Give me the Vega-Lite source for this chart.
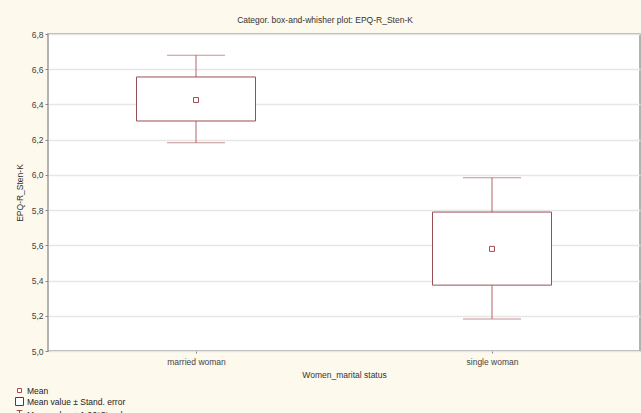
{
  "$schema": "https://vega.github.io/schema/vega-lite/v6.json",
  "width": 592,
  "height": 317,
  "autosize": {"type": "none"},
  "padding": {"left": 48, "top": 34, "right": 1, "bottom": 62},
  "background": "#fdf9ec",
  "title": {
    "text": "Categor. box-and-whisher plot:  EPQ-R_Sten-K",
    "fontSize": 8.5,
    "fontWeight": "normal",
    "color": "#333333",
    "font": "Liberation Sans",
    "offset": 6,
    "dx": -19
  },
  "data": {
    "values": [
      {"status": "married woman", "series": "Mean", "mean": 6.425, "se_lo": 6.306, "se_hi": 6.556, "ci_lo": 6.182, "ci_hi": 6.68},
      {"status": "single woman", "series": "Mean", "mean": 5.58, "se_lo": 5.374, "se_hi": 5.789, "ci_lo": 5.182, "ci_hi": 5.984}
    ]
  },
  "encoding": {
    "x": {
      "field": "status",
      "type": "nominal",
      "scale": {"type": "point", "padding": 0.5},
      "axis": {
        "title": "Women_marital status",
        "labelAngle": 0,
        "tickSize": 2,
        "labelPadding": 4,
        "titlePadding": 5,
        "grid": false
      }
    }
  },
  "layer": [
    {
      "mark": {"type": "rule", "color": "#b06468", "strokeWidth": 1},
      "encoding": {
        "y": {
          "field": "ci_lo",
          "type": "quantitative",
          "scale": {"domain": [5.0, 6.8], "nice": false, "zero": false},
          "axis": {
            "title": "EPQ-R_Sten-K",
            "values": [5.0, 5.2, 5.4, 5.6, 5.8, 6.0, 6.2, 6.4, 6.6, 6.8],
            "tickCount": 10,
            "labelExpr": "replace(format(datum.value, '.1f'), '.', ',')",
            "labelOverlap": false,
            "labelBound": false,
            "labelFlush": false,
            "tickSize": 3,
            "labelPadding": 2,
            "titlePadding": 7,
            "grid": true
          }
        },
        "y2": {"field": "ci_hi"}
      }
    },
    {
      "mark": {"type": "tick", "color": "#b06468", "size": 58, "thickness": 1},
      "encoding": {"y": {"field": "ci_lo", "type": "quantitative", "axis": {
            "title": "EPQ-R_Sten-K",
            "values": [5.0, 5.2, 5.4, 5.6, 5.8, 6.0, 6.2, 6.4, 6.6, 6.8],
            "tickCount": 10,
            "labelExpr": "replace(format(datum.value, '.1f'), '.', ',')",
            "labelOverlap": false,
            "labelBound": false,
            "labelFlush": false,
            "tickSize": 3,
            "labelPadding": 2,
            "titlePadding": 7,
            "grid": true
          }}}
    },
    {
      "mark": {"type": "tick", "color": "#b06468", "size": 58, "thickness": 1},
      "encoding": {"y": {"field": "ci_hi", "type": "quantitative", "axis": {
            "title": "EPQ-R_Sten-K",
            "values": [5.0, 5.2, 5.4, 5.6, 5.8, 6.0, 6.2, 6.4, 6.6, 6.8],
            "tickCount": 10,
            "labelExpr": "replace(format(datum.value, '.1f'), '.', ',')",
            "labelOverlap": false,
            "labelBound": false,
            "labelFlush": false,
            "tickSize": 3,
            "labelPadding": 2,
            "titlePadding": 7,
            "grid": true
          }}}
    },
    {
      "mark": {"type": "bar", "fill": "#ffffff", "stroke": "#9a4e56", "strokeWidth": 1, "size": 119},
      "encoding": {
        "y": {"field": "se_lo", "type": "quantitative", "axis": {
            "title": "EPQ-R_Sten-K",
            "values": [5.0, 5.2, 5.4, 5.6, 5.8, 6.0, 6.2, 6.4, 6.6, 6.8],
            "tickCount": 10,
            "labelExpr": "replace(format(datum.value, '.1f'), '.', ',')",
            "labelOverlap": false,
            "labelBound": false,
            "labelFlush": false,
            "tickSize": 3,
            "labelPadding": 2,
            "titlePadding": 7,
            "grid": true
          }},
        "y2": {"field": "se_hi"}
      }
    },
    {
      "mark": {"type": "point", "filled": false, "fill": "#ffffff", "strokeWidth": 1, "size": 100, "opacity": 1},
      "encoding": {
        "y": {"field": "mean", "type": "quantitative", "axis": {
            "title": "EPQ-R_Sten-K",
            "values": [5.0, 5.2, 5.4, 5.6, 5.8, 6.0, 6.2, 6.4, 6.6, 6.8],
            "tickCount": 10,
            "labelExpr": "replace(format(datum.value, '.1f'), '.', ',')",
            "labelOverlap": false,
            "labelBound": false,
            "labelFlush": false,
            "tickSize": 3,
            "labelPadding": 2,
            "titlePadding": 7,
            "grid": true
          }},
        "shape": {
          "field": "series",
          "type": "nominal",
          "scale": {
            "domain": ["Mean", "Mean value ± Stand. error", "Mean value ± 1,96*Stand. error"],
            "range": ["M-0.5,-0.5H0.5V0.5H-0.5Z", "M-1,-1H1V1H-1Z", "M-0.7,-1H0.7M0,-1V1"]
          },
          "legend": {
            "title": null,
            "orient": "none",
            "legendX": -33,
            "legendY": 352,
            "symbolSize": 64,
            "symbolStrokeWidth": 1,
            "labelFontSize": 8.5,
            "labelColor": "#222222",
            "labelOffset": 3,
            "rowPadding": 0,
            "symbolFillColor": "#ffffff",
            "padding": 0
          }
        },
        "stroke": {
          "field": "series",
          "type": "nominal",
          "scale": {
            "domain": ["Mean", "Mean value ± Stand. error", "Mean value ± 1,96*Stand. error"],
            "range": ["#a84850", "#444444", "#a84850"]
          },
          "legend": {
            "title": null,
            "orient": "none",
            "legendX": -33,
            "legendY": 352,
            "symbolSize": 64,
            "labelFontSize": 8.5,
            "labelColor": "#222222",
            "labelOffset": 3,
            "rowPadding": 0,
            "padding": 0
          }
        }
      }
    }
  ],
  "config": {
    "font": "Liberation Sans",
    "view": {"stroke": "#9a9a9a", "strokeWidth": 1.5, "fill": "#ffffff"},
    "axis": {
      "labelFont": "Liberation Sans",
      "titleFont": "Liberation Sans",
      "labelFontSize": 8.5,
      "titleFontSize": 8.5,
      "titleFontWeight": "normal",
      "labelColor": "#444444",
      "titleColor": "#333333",
      "domain": false,
      "tickColor": "#888888",
      "gridColor": "#e6e6e6",
      "gridWidth": 1.5
    },
    "legend": {"labelFont": "Liberation Sans"}
  }
}
